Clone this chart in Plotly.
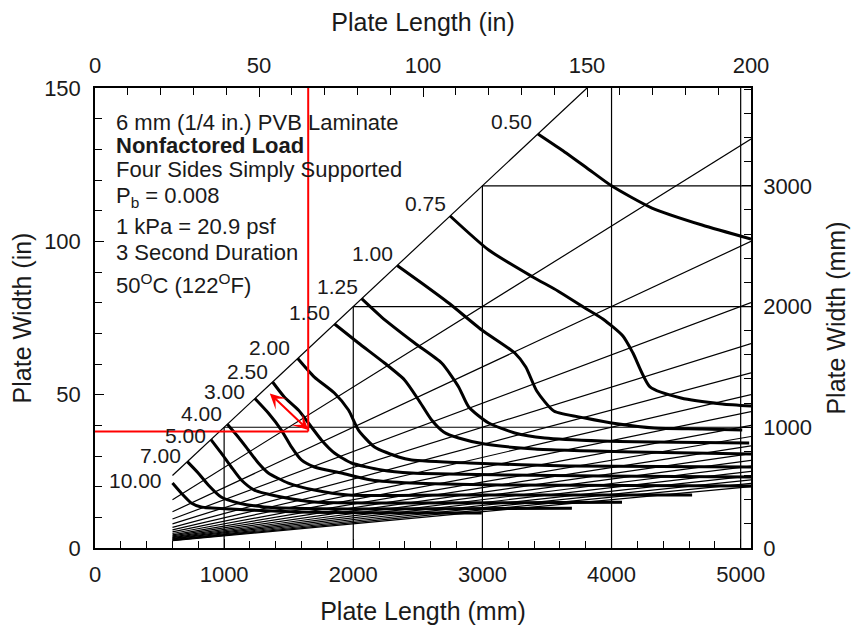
import plotly.graph_objects as go

# ---------------- data ----------------
# aspect ratios (length / width) of the thin radial lines
aspect_ratios = [1, 1.5, 2, 2.5, 3, 3.5, 4, 4.5, 5, 5.5, 6, 6.5, 7, 7.5, 8, 8.5, 9, 9.5, 10]
min_length_mm = 600
max_length_mm = 5080          # 200 in
max_width_mm = 3810           # 150 in
grid_mm = [1000, 2000, 3000, 4000, 5000]

# load contours (kPa), lengths / widths in mm
load_labels = ["0.50", "0.75", "1.00", "1.25", "1.50", "2.00", "2.50", "3.00", "4.00", "5.00", "7.00", "10.00"]

c050_x = [3430, 3615, 3809, 4003, 4313, 4701, 5080]
c050_y = [3430, 3297, 3148, 2998, 2816, 2675, 2559]
c075_x = [2750, 3049, 3390, 3584, 3794, 3933, 4088, 4166, 4298, 4538, 4857, 5080]
c075_y = [2750, 2468, 2245, 2129, 1988, 1897, 1756, 1615, 1334, 1242, 1193, 1176]
c100_x = [2340, 2529, 2739, 2995, 3251, 3336, 3421, 3553, 3794, 4057, 4329, 4701, 5012]
c100_y = [2340, 2195, 2029, 1806, 1615, 1499, 1300, 1135, 1077, 1027, 994, 986, 977]
c125_x = [2065, 2219, 2475, 2684, 2816, 2894, 3049, 3251, 3483, 3926, 4313, 5066]
c125_y = [2065, 1913, 1698, 1532, 1334, 1168, 1035, 953, 911, 886, 878, 870]
c150_x = [1855, 2040, 2242, 2397, 2506, 2607, 2700, 2816, 3018, 3406, 4182, 5080]
c150_y = [1855, 1698, 1532, 1392, 1226, 1060, 961, 911, 861, 820, 795, 779]
c200_x = [1570, 1699, 1854, 1963, 2040, 2164, 2351, 2452, 2894, 3670, 5080]
c200_y = [1570, 1416, 1284, 1143, 977, 837, 754, 729, 704, 679, 671]
c250_x = [1375, 1466, 1575, 1676, 1753, 1854, 1986, 2219, 2452, 3150, 3926, 5080]
c250_y = [1375, 1251, 1143, 1002, 895, 787, 704, 646, 621, 605, 596, 588]
c300_x = [1238, 1342, 1443, 1521, 1598, 1699, 1908, 2141, 2452, 3150, 5080]
c300_y = [1238, 1118, 977, 837, 729, 671, 621, 563, 538, 522, 514]
c400_x = [1025, 1109, 1187, 1265, 1342, 1497, 1699, 1963, 2762, 4624]
c400_y = [1025, 919, 812, 704, 621, 538, 480, 439, 439, 440]
c500_x = [898, 977, 1055, 1133, 1234, 1443, 1699, 2374, 4081]
c500_y = [898, 787, 671, 563, 480, 422, 381, 373, 378]
c700_x = [715, 799, 877, 977, 1109, 1311, 1986, 3693]
c700_y = [715, 621, 522, 422, 373, 340, 323, 330]
c1000_x = [600, 667, 745, 822, 1055, 1598, 2995]
c1000_y = [538, 456, 373, 340, 323, 298, 290]

# red example: plate 65 in x 38 in
example_in = [65, 38]
arrow_from_mm = [1342, 1292]
arrow_to_mm = [1652, 977]

# axis tick values
x_mm_ticks = [0, 1000, 2000, 3000, 4000, 5000]
x_in_ticks = [0, 50, 100, 150, 200]
y_in_ticks = [0, 50, 100, 150]
y_mm_ticks = [0, 1000, 2000, 3000]

# ---------------- figure ----------------
FONT = "Liberation Sans, Arial, sans-serif"
TXT = "#1a1a1a"
fig = go.Figure()

# thin aspect-ratio lines
for r in aspect_ratios:
    x_end = min(max_length_mm, max_width_mm * r)
    fig.add_trace(go.Scatter(x=[min_length_mm, x_end], y=[min_length_mm / r, x_end / r],
                             mode="lines", line=dict(color="black", width=1.2),
                             showlegend=False, hoverinfo="skip"))

# grid lines inside the region
for g in grid_mm:
    fig.add_trace(go.Scatter(x=[g, g], y=[0, min(g, max_width_mm)], mode="lines",
                             line=dict(color="black", width=1.2), showlegend=False, hoverinfo="skip"))
    if g < max_width_mm:
        fig.add_trace(go.Scatter(x=[g, max_length_mm], y=[g, g], mode="lines",
                                 line=dict(color="black", width=1.2), showlegend=False, hoverinfo="skip"))

curves_x = [c050_x, c075_x, c100_x, c125_x, c150_x, c200_x, c250_x, c300_x, c400_x, c500_x, c700_x, c1000_x]
curves_y = [c050_y, c075_y, c100_y, c125_y, c150_y, c200_y, c250_y, c300_y, c400_y, c500_y, c700_y, c1000_y]
label_shift = [(-4, 12), (-2, 12), (-2, 12), (-2, 12), (-3, 12), (-6, 11), (-3, 10), (-8, 7),
               (-3, 11), (-3, 4), (-4, 6), (-8, 3)]

for lab, xs, ys, sh in zip(load_labels, curves_x, curves_y, label_shift):
    fig.add_trace(go.Scatter(x=xs, y=ys, mode="lines", line=dict(color="black", width=3, shape="spline", smoothing=0.6),
                             showlegend=False, hoverinfo="skip"))
    fig.add_annotation(x=xs[0], y=ys[0], xref="x", yref="y", text=lab, showarrow=False,
                       xanchor="right", yanchor="middle", xshift=sh[0], yshift=sh[1],
                       font=dict(family=FONT, size=21, color=TXT))

# red example lines
ex_len = example_in[0] * 25.4
ex_wid = example_in[1] * 25.4
fig.add_trace(go.Scatter(x=[ex_len, ex_len], y=[ex_wid, max_width_mm], mode="lines",
                         line=dict(color="#ff0000", width=2), showlegend=False, hoverinfo="skip"))
fig.add_trace(go.Scatter(x=[0, ex_len], y=[ex_wid, ex_wid], mode="lines",
                         line=dict(color="#ff0000", width=2), showlegend=False, hoverinfo="skip"))
fig.add_annotation(x=arrow_to_mm[0], y=arrow_to_mm[1], ax=arrow_from_mm[0], ay=arrow_from_mm[1],
                   xref="x", yref="y", axref="x", ayref="y", text="", showarrow=True,
                   arrowhead=3, startarrowhead=3, arrowside="end+start", arrowsize=1.3,
                   startarrowsize=1.3, arrowwidth=2, arrowcolor="#ff0000")

# invisible trace for secondary axes
fig.add_trace(go.Scatter(x=[None], y=[None], xaxis="x2", yaxis="y2", showlegend=False, hoverinfo="skip"))

# text block
text_lines = [
    ("6 mm (1/4 in.) PVB Laminate", 0.926),
    ("<b>Nonfactored Load</b>", 0.874),
    ("Four Sides Simply Supported", 0.822),
    ("P<sub>b</sub> = 0.008", 0.762),
    ("1 kPa = 20.9 psf", 0.698),
    ("3 Second Duration", 0.643),
    ("50<sup>O</sup>C (122<sup>O</sup>F)", 0.574),
]
for t, yp in text_lines:
    fig.add_annotation(x=0.029, y=yp, xref="paper", yref="paper", text=t, showarrow=False,
                       xanchor="left", yanchor="middle", font=dict(family=FONT, size=22, color=TXT))

axis_common = dict(showline=True, linecolor="black", linewidth=1.5, ticks="inside", ticklen=9,
                   tickcolor="black", tickwidth=1.2, showgrid=False, zeroline=False, automargin=False,
                   tickfont=dict(family=FONT, size=22, color=TXT))
title_font = dict(family=FONT, size=25, color=TXT)

fig.update_layout(
    width=860, height=631,
    margin=dict(l=87, r=117, t=80, b=91),
    paper_bgcolor="white", plot_bgcolor="white",
    xaxis=dict(range=[0, max_length_mm], tickvals=x_mm_ticks, side="bottom", anchor="y",
               minor=dict(dtick=200, ticks="inside", ticklen=7, tickcolor="black", tickwidth=1.2),
               ticklabelstandoff=6,
               title=dict(text="Plate Length (mm)", font=title_font, standoff=16),
               **axis_common),
    xaxis2=dict(range=[0, max_length_mm / 25.4], tickvals=x_in_ticks, side="top", overlaying="x", anchor="y",
                minor=dict(dtick=10, ticks="inside", ticklen=7, tickcolor="black", tickwidth=1.2),
                ticklabelstandoff=4,
                title=dict(text="Plate Length (in)", font=title_font, standoff=20),
                **axis_common),
    yaxis=dict(range=[0, max_width_mm], tickvals=y_mm_ticks, side="right", anchor="x",
               minor=dict(dtick=200, ticks="inside", ticklen=7, tickcolor="black", tickwidth=1.2),
               ticklabelstandoff=6,
               title=dict(text="Plate Width (mm)", font=title_font, standoff=16),
               **axis_common),
    yaxis2=dict(range=[0, max_width_mm / 25.4], tickvals=y_in_ticks, side="left", overlaying="y", anchor="x",
                minor=dict(dtick=10, ticks="inside", ticklen=7, tickcolor="black", tickwidth=1.2),
                ticklabelstandoff=8,
                title=dict(text="Plate Width (in)", font=title_font, standoff=12),
                **axis_common),
)

fig.write_html("out.html")
